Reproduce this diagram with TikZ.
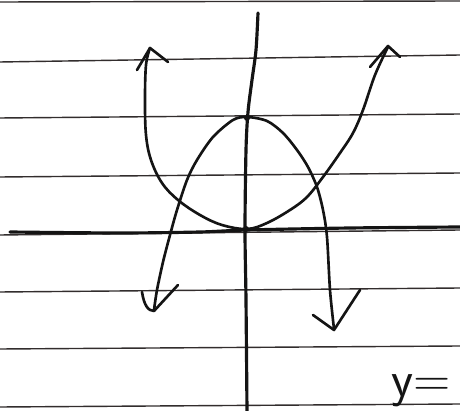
\documentclass[tikz,border=0pt]{standalone}
\usepackage{xcolor}
\usepackage{tikz}
\usetikzlibrary{positioning}
\definecolor{inkblack}{RGB}{20,20,20}
\definecolor{ruleline}{RGB}{50,45,45}

\begin{document}
\begin{tikzpicture}[x=0.02cm, y=-0.02cm,
  ruling/.style={ruleline, line width=0.8pt},
  axisline/.style={inkblack, line width=1.8pt, line cap=round},
  pen/.style={inkblack, line width=1.5pt, line cap=round, line join=round},
  handlabel/.style={inkblack, font=\sffamily\fontsize{29}{29}\selectfont, inner sep=0pt, anchor=base west}
]
\useasboundingbox (0,0) rectangle (460,411);
\fill[white] (0,0) rectangle (460,411);

% paper rulings
\draw[ruling] (0,2) -- (460,1);
\draw[ruling] (0,62) -- (460,55);
\draw[ruling] (0,118) -- (460,114);
\draw[ruling] (0,177) -- (460,173);
\draw[ruling] (0,235) -- (460,230);
\draw[ruling] (0,292) -- (460,288);
\draw[ruling] (0,349) -- (460,346);
\draw[ruling] (0,407) -- (460,404);

% axes
\draw[axisline] plot[smooth] coordinates {(10,232) (120,233) (200,232) (247,230) (350,228) (460,227)};
\draw[axisline] plot[smooth] coordinates {(258,13) (256,50) (252,80) (248,112) (246,150) (245,230) (246,300) (247,411)};
\fill[inkblack] (247,118) circle[radius=3];
\fill[inkblack] (246,229) circle[radius=3];

% opening upward
\draw[pen] plot[smooth, tension=0.6] coordinates {(150,48) (146,65) (145,100) (146,135) (151,160) (162,183) (178,200) (200,215) (222,225) (247,229) (267,223) (290,210) (307,197) (323,177) (340,153) (353,133) (363,110) (375,75) (388,47)};
\draw[pen] (137,70) -- (150,48) -- (168,62);
\draw[pen] (370,67) -- (388,46) -- (400,57);

% opening downward
\draw[pen] plot[smooth] coordinates {(154,310) (157,290) (163,262) (170,235) (177,210) (187,180) (197,160) (213,137) (233,120) (247,117) (267,121) (283,133) (297,150) (308,167) (317,187) (323,210) (327,237) (330,290) (334,329)};
\draw[pen] (142,292) .. controls (144,305) and (148,311) .. (154,311) -- (178,285);
\draw[pen] (313,315) -- (334,330) -- (360,290);

\node[handlabel] (ylabel) at (391,397) {y=};
\end{tikzpicture}
\end{document}
